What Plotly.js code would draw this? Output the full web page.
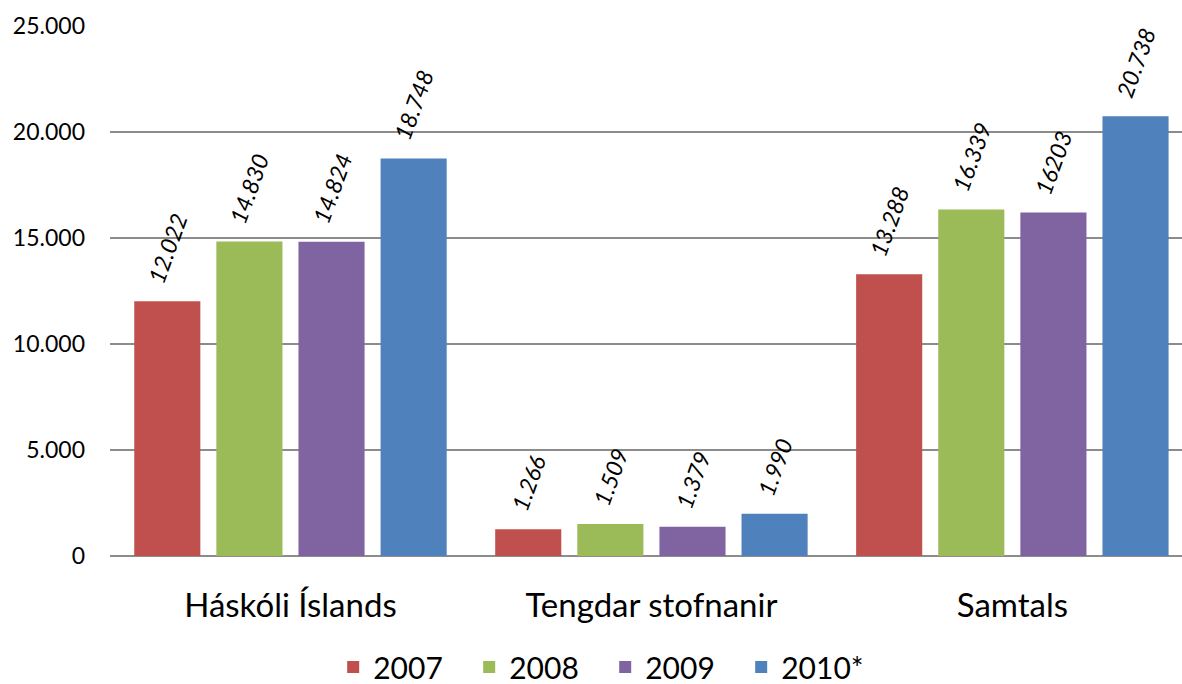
<!DOCTYPE html>
<html>
<head>
<meta charset="utf-8">
<script src="https://cdn.plot.ly/plotly-3.0.1.min.js"></script>
<style>html,body{margin:0;padding:0;background:#fff;}#chart{width:1182px;height:684px;}</style>
</head>
<body>
<div id="chart"></div>
<script>
const categories = ["Háskóli Íslands", "Tengdar stofnanir", "Samtals"];
const seriesNames = ["2007", "2008", "2009", "2010*"];
const values2007 = [12022, 1266, 13288];
const values2008 = [14830, 1509, 16339];
const values2009 = [14824, 1379, 16203];
const values2010 = [18748, 1990, 20738];
const labels2007 = ["12.022", "1.266", "13.288"];
const labels2008 = ["14.830", "1.509", "16.339"];
const labels2009 = ["14.824", "1.379", "16203"];
const labels2010 = ["18.748", "1.990", "20.738"];
const yTickVals = [0, 5000, 10000, 15000, 20000, 25000];
const yTickText = ["0", "5.000", "10.000", "15.000", "20.000", "25.000"];
const colors = ["#C0504D", "#9BBB59", "#8064A2", "#4F81BD"];

const allValues = [values2007, values2008, values2009, values2010];
const allLabels = [labels2007, labels2008, labels2009, labels2010];

const FONT = "Lato, 'Open Sans', sans-serif";
const W = 1182, H = 684;
const margin = {l: 110, r: 0, t: 26, b: 128};
const xRange = [-0.5, 2.47];
const bargap = 0.09;
const bargroupgap = 0.195;

const traces = seriesNames.map((name, i) => ({
  type: "bar",
  name: name,
  x: categories,
  y: allValues[i],
  marker: {color: colors[i], line: {width: 0}},
  hoverinfo: "skip"
}));

const plotW = W - margin.l - margin.r;
const pxPerCat = plotW / (xRange[1] - xRange[0]);
const slotPx = pxPerCat * (1 - bargap) / seriesNames.length;

const annotations = [];
seriesNames.forEach((name, i) => {
  categories.forEach((c, j) => {
    annotations.push({
      x: c, y: allValues[i][j], xref: "x", yref: "y",
      text: allLabels[i][j],
      showarrow: false,
      textangle: -70,
      xanchor: "center", yanchor: "bottom",
      xshift: (i - (seriesNames.length - 1) / 2) * slotPx,
      yshift: 12,
      font: {family: FONT, size: 23, color: "#000", style: "italic"}
    });
  });
});

const layout = {
  width: W, height: H,
  margin: Object.assign({autoexpand: false}, margin),
  paper_bgcolor: "#fff", plot_bgcolor: "#fff",
  barmode: "group",
  bargap: bargap, bargroupgap: bargroupgap,
  showlegend: true,
  legend: {orientation: "h", xref: "container", yref: "container",
           x: 0.512, xanchor: "center", y: 0.025, yanchor: "middle",
           entrywidth: 91, entrywidthmode: "pixels",
           font: {family: FONT, size: 30, color: "#000"}, itemwidth: 30, traceorder: "normal"},
  xaxis: {
    range: xRange, type: "category", automargin: false,
    showgrid: false, zeroline: false, showline: false, ticks: "",
    tickfont: {family: FONT, size: 33, color: "#000"},
    ticklabelstandoff: 27
  },
  yaxis: {
    range: [0, 25000], automargin: false,
    tickvals: yTickVals, ticktext: yTickText,
    showgrid: true, gridcolor: "#8c8c8c", gridwidth: 1.5,
    zeroline: true, zerolinecolor: "#8c8c8c", zerolinewidth: 1.5,
    showline: false, ticks: "",
    tickfont: {family: FONT, size: 23, color: "#000"},
    ticklabelstandoff: 24
  },
  annotations: annotations
};

Plotly.newPlot("chart", traces, layout, {displayModeBar: false, staticPlot: true});
</script>
</body>
</html>
